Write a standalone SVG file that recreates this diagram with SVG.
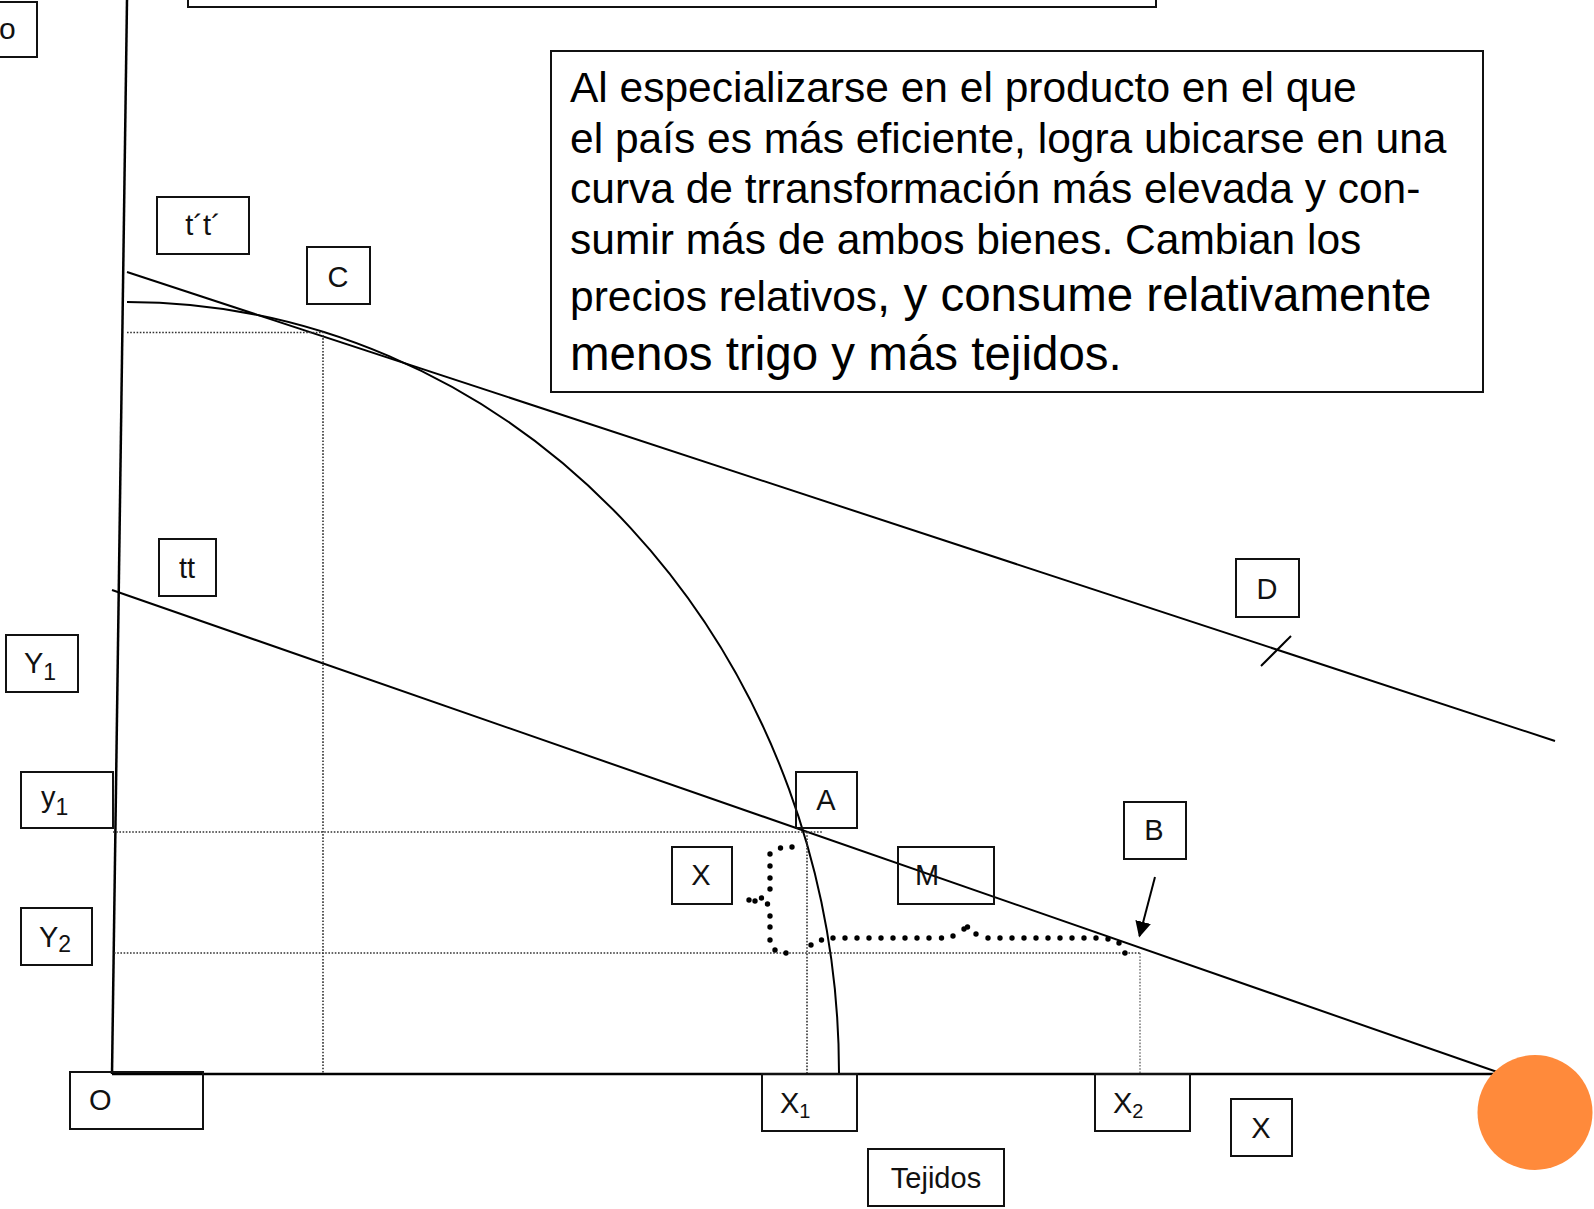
<svg xmlns="http://www.w3.org/2000/svg" width="1594" height="1209" viewBox="0 0 1594 1209">
<style>
.box{fill:none;stroke:#111;stroke-width:2}
.lbl{font-family:"Liberation Sans",Arial,sans-serif;font-size:29px;fill:#111}
.sub{font-size:23px}
.body{font-family:"Liberation Sans",Arial,sans-serif;font-size:42.5px;fill:#000}
.big{font-size:47.5px}
.ln{fill:none;stroke:#000;stroke-width:2}
.ax{fill:none;stroke:#000;stroke-width:2.5}
.dot{fill:none;stroke:#333;stroke-width:1.6;stroke-dasharray:1.6 1.6}
.dotf{fill:none;stroke:#444;stroke-width:1.1;stroke-dasharray:1.6 1.6}
.rd{fill:#000}
</style>
<defs>
<marker id="ah" viewBox="0 0 10 10" refX="9" refY="5" markerWidth="16" markerHeight="16" markerUnits="userSpaceOnUse" orient="auto">
<path d="M0,0 L10,5 L0,10 Z" fill="#000"/>
</marker>
</defs>
<rect width="1594" height="1209" fill="#fff"/>

<g id="connectors">
<line class="ax" x1="127" y1="0" x2="112" y2="1074"/>
<line class="ax" x1="112" y1="1074" x2="1555" y2="1074"/>
<path class="ln" d="M127 302 A712 771 0 0 1 839 1073"/>
<line class="ln" x1="127" y1="272" x2="1555" y2="741"/>
<line class="ln" x1="1261" y1="666" x2="1291" y2="636"/>
<line class="ln" x1="112" y1="590" x2="1503" y2="1074"/>
<path class="dot" d="M127 332.5 H323 V1073"/>
<path class="dot" d="M113 832 H822"/>
<path class="dot" d="M807 832 V1073"/>
<path class="dot" d="M114 953 H1140"/>
<path class="dotf" d="M1140 953 V1073"/>
<line class="ln" x1="1155" y1="877" x2="1139.5" y2="936" marker-end="url(#ah)"/>
<g id="brace-dots">
<circle class="rd" cx="792" cy="847" r="2.7"/><circle class="rd" cx="780.5" cy="848" r="2.7"/>
<circle class="rd" cx="770" cy="854" r="2.7"/><circle class="rd" cx="770" cy="866" r="2.7"/>
<circle class="rd" cx="770" cy="878" r="2.7"/><circle class="rd" cx="770" cy="889" r="2.7"/>
<circle class="rd" cx="761.5" cy="898" r="2.7"/><circle class="rd" cx="755" cy="901" r="2.7"/>
<circle class="rd" cx="749" cy="900" r="2.7"/><circle class="rd" cx="767.5" cy="904" r="2.7"/>
<circle class="rd" cx="770" cy="916" r="2.7"/><circle class="rd" cx="770" cy="927" r="2.7"/>
<circle class="rd" cx="770" cy="940" r="2.7"/><circle class="rd" cx="775" cy="950" r="2.7"/>
<circle class="rd" cx="786" cy="953" r="2.7"/><circle class="rd" cx="811" cy="945" r="2.7"/>
<circle class="rd" cx="821.5" cy="940" r="2.7"/><circle class="rd" cx="833" cy="938" r="2.7"/>
<circle class="rd" cx="845" cy="938" r="2.7"/><circle class="rd" cx="857" cy="938" r="2.7"/>
<circle class="rd" cx="869" cy="938" r="2.7"/><circle class="rd" cx="881" cy="938" r="2.7"/>
<circle class="rd" cx="893" cy="938" r="2.7"/><circle class="rd" cx="905" cy="938" r="2.7"/>
<circle class="rd" cx="917" cy="938" r="2.7"/><circle class="rd" cx="929" cy="938" r="2.7"/>
<circle class="rd" cx="941.5" cy="938" r="2.7"/><circle class="rd" cx="953" cy="936" r="2.7"/>
<circle class="rd" cx="964" cy="929" r="2.7"/><circle class="rd" cx="967.5" cy="927" r="2.7"/>
<circle class="rd" cx="976" cy="934" r="2.7"/><circle class="rd" cx="988" cy="938" r="2.7"/>
<circle class="rd" cx="1000" cy="938" r="2.7"/><circle class="rd" cx="1012" cy="938" r="2.7"/>
<circle class="rd" cx="1024" cy="938" r="2.7"/><circle class="rd" cx="1036" cy="938" r="2.7"/>
<circle class="rd" cx="1048" cy="938" r="2.7"/><circle class="rd" cx="1060" cy="938" r="2.7"/>
<circle class="rd" cx="1072" cy="938" r="2.7"/><circle class="rd" cx="1084" cy="938" r="2.7"/>
<circle class="rd" cx="1096" cy="938" r="2.7"/><circle class="rd" cx="1108" cy="939" r="2.7"/>
<circle class="rd" cx="1119" cy="943" r="2.7"/><circle class="rd" cx="1125" cy="953" r="2.7"/>
</g>
</g>

<g id="top-box"><rect class="box" x="188" y="-10" width="968" height="17"/></g>
<g id="label-o"><rect class="box" x="-20" y="2" width="57" height="55"/><text class="lbl" x="-1" y="39" style="font-size:30px">o</text></g>

<g id="note">
<rect class="box" x="551" y="51" width="932" height="341"/>
<text class="body" x="570" y="102">Al especializarse en el producto en el que</text>
<text class="body" x="570" y="152.5">el país es más eficiente, logra ubicarse en una</text>
<text class="body" x="570" y="203">curva de trransformación más elevada y con-</text>
<text class="body" x="570" y="254">sumir más de ambos bienes. Cambian los</text>
<text class="body" x="570" y="311">precios relativos<tspan class="big">, y consume relativamente</tspan></text>
<text class="body big" x="570" y="370">menos trigo y más tejidos.</text>
</g>

<g id="label-tt2"><rect class="box" x="157" y="197" width="92" height="57"/><text class="lbl" x="203" y="235" text-anchor="middle">t´t´</text></g>
<g id="label-C"><rect class="box" x="307" y="247" width="63" height="57"/><text class="lbl" x="338" y="287" text-anchor="middle">C</text></g>
<g id="label-tt"><rect class="box" x="159" y="539" width="57" height="57"/><text class="lbl" x="187" y="578" text-anchor="middle">tt</text></g>
<g id="label-D"><rect class="box" x="1236" y="559" width="63" height="58"/><text class="lbl" x="1267" y="599" text-anchor="middle">D</text></g>
<g id="label-Y1"><rect class="box" x="6" y="635" width="72" height="57"/><text class="lbl" x="24" y="673">Y<tspan class="sub" dy="7">1</tspan></text></g>
<g id="label-y1"><rect class="box" x="21" y="772" width="92" height="56"/><text class="lbl" x="41" y="807">y<tspan class="sub" dy="8">1</tspan></text></g>
<g id="label-Y2"><rect class="box" x="21" y="908" width="71" height="57"/><text class="lbl" x="39" y="947">Y<tspan class="sub" dy="5">2</tspan></text></g>
<g id="label-A"><rect class="box" x="796" y="772" width="61" height="56"/><text class="lbl" x="826" y="810" text-anchor="middle">A</text></g>
<g id="label-Xl"><rect class="box" x="672" y="847" width="60" height="57"/><text class="lbl" x="701" y="885" text-anchor="middle">X</text></g>
<g id="label-M"><rect class="box" x="898" y="847" width="96" height="57"/><text class="lbl" x="915" y="885">M</text></g>
<g id="label-B"><rect class="box" x="1124" y="802" width="62" height="57"/><text class="lbl" x="1154" y="840" text-anchor="middle">B</text></g>
<g id="label-O"><rect class="box" x="70" y="1072" width="133" height="57"/><text class="lbl" x="89" y="1110">O</text></g>
<g id="label-X1"><rect class="box" x="762" y="1074" width="95" height="57"/><text class="lbl" x="780" y="1113">X<tspan class="sub" style="font-size:20px" dy="5">1</tspan></text></g>
<g id="label-X2"><rect class="box" x="1095" y="1074" width="95" height="57"/><text class="lbl" x="1113" y="1113">X<tspan class="sub" style="font-size:20px" dy="5">2</tspan></text></g>
<g id="label-X"><rect class="box" x="1231" y="1099" width="61" height="57"/><text class="lbl" x="1261" y="1138" text-anchor="middle">X</text></g>
<g id="label-Tejidos"><rect class="box" x="868" y="1149" width="136" height="57"/><text class="lbl" x="936" y="1188" text-anchor="middle">Tejidos</text></g>
<g id="orange-dot"><circle cx="1535" cy="1112.5" r="57.5" fill="#FF8A3B"/></g>
</svg>
